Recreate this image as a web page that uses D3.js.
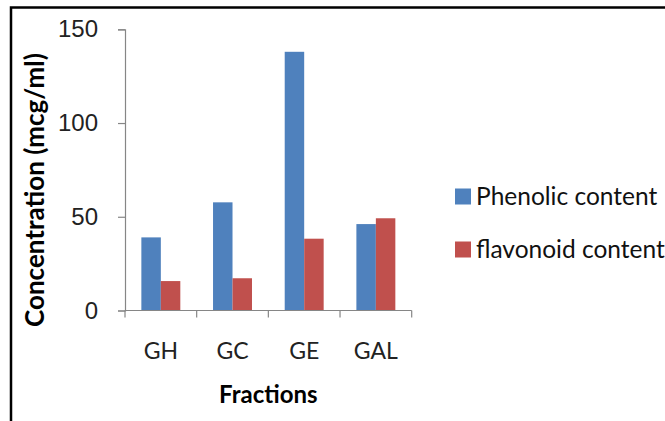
<!DOCTYPE html>
<html>
<head>
<meta charset="utf-8">
<script src="https://cdn.jsdelivr.net/npm/d3@7"></script>
<style>
  html, body { margin: 0; padding: 0; background: #fff; }
  svg { display: block; font-family: Lato, "Open Sans", sans-serif; }
</style>
</head>
<body>
<svg id="chart" width="665" height="421"></svg>
<script>
// Fractions and their measured concentrations (mcg/ml)
const categories = ["GH", "GC", "GE", "GAL"];
const seriesNames = ["Phenolic content", "flavonoid content"];
const phenolic = [39, 57.7, 138, 46.1];
const flavonoid = [15.7, 17.2, 38.3, 49.2];
const yTicks = [0, 50, 100, 150];
const colors = ["#4F81BD", "#C0504D"];

const svg = d3.select("#chart");

// Outer frame: top and left edges only
svg.append("path")
  .attr("d", "M11,421 V7.5 H665")
  .attr("fill", "none")
  .attr("stroke", "#000")
  .attr("stroke-width", 2.5);

const plot = { left: 125, right: 411.7, top: 29.3, bottom: 310.5 };

const x = d3.scaleBand()
  .domain(categories)
  .range([plot.left, plot.right]);

const x1 = d3.scaleBand()
  .domain(seriesNames)
  .range([0, x.bandwidth()])
  .paddingOuter(0.84)
  .paddingInner(0);

const y = d3.scaleLinear()
  .domain([0, 150])
  .range([plot.bottom, plot.top]);

const axisColor = "#868686";

// Bars
const rows = categories.map((c, i) => ({ cat: c, values: [phenolic[i], flavonoid[i]] }));
const groups = svg.append("g").selectAll("g")
  .data(rows)
  .join("g")
  .attr("transform", d => `translate(${x(d.cat)},0)`);

groups.selectAll("rect")
  .data(d => d.values.map((v, j) => ({ name: seriesNames[j], v, j })))
  .join("rect")
  .attr("x", d => x1(d.name))
  .attr("width", x1.bandwidth())
  .attr("y", d => y(d.v))
  .attr("height", d => y(0) - y(d.v))
  .attr("fill", d => colors[d.j]);

// Y axis
const yAxis = svg.append("g")
  .attr("transform", `translate(${plot.left},0)`)
  .call(d3.axisLeft(y).tickValues(yTicks).tickSize(7).tickPadding(20).tickFormat(d3.format("d")));
yAxis.select(".domain").attr("stroke", axisColor).attr("stroke-width", 1.2);
yAxis.selectAll(".tick line").attr("stroke", axisColor).attr("stroke-width", 1.2);
yAxis.selectAll("text")
  .attr("fill", "#222")
  .style("font-size", "24px");

// X axis: ticks between categories
const xAxis = svg.append("g")
  .attr("transform", `translate(0,${plot.bottom})`);
xAxis.append("line")
  .attr("x1", plot.left).attr("x2", plot.right)
  .attr("stroke", axisColor).attr("stroke-width", 1.2);
const boundaries = categories.map(c => x(c)).concat([x(categories[categories.length - 1]) + x.bandwidth()]);
xAxis.selectAll("line.tk")
  .data(boundaries)
  .join("line")
  .attr("class", "tk")
  .attr("x1", d => d).attr("x2", d => d)
  .attr("y1", 0).attr("y2", 7)
  .attr("stroke", axisColor).attr("stroke-width", 1.2);
xAxis.selectAll("text")
  .data(categories)
  .join("text")
  .attr("x", d => x(d) + x.bandwidth() / 2)
  .attr("y", 48)
  .attr("text-anchor", "middle")
  .attr("fill", "#222")
  .style("font-size", "23px")
  .text(d => d);

// Axis titles
svg.append("text")
  .attr("x", (plot.left + plot.right) / 2)
  .attr("y", 403)
  .attr("text-anchor", "middle")
  .style("font-size", "24px")
  .style("font-weight", "bold")
  .attr("fill", "#000")
  .text("Fractions");

svg.append("text")
  .attr("transform", `translate(44,190) rotate(-90)`)
  .attr("text-anchor", "middle")
  .style("font-size", "26px")
  .style("font-weight", "bold")
  .attr("fill", "#000")
  .text("Concentration (mcg/ml)");

// Legend
const legend = svg.append("g");
const legendY = [197, 250];
seriesNames.forEach((name, i) => {
  legend.append("rect")
    .attr("x", 455).attr("y", legendY[i] - 8.5)
    .attr("width", 16).attr("height", 16)
    .attr("fill", colors[i]);
  legend.append("text")
    .attr("x", 476).attr("y", legendY[i] + 8)
    .style("font-size", "24.5px")
    .attr("fill", "#111")
    .text(name);
});
</script>
</body>
</html>
